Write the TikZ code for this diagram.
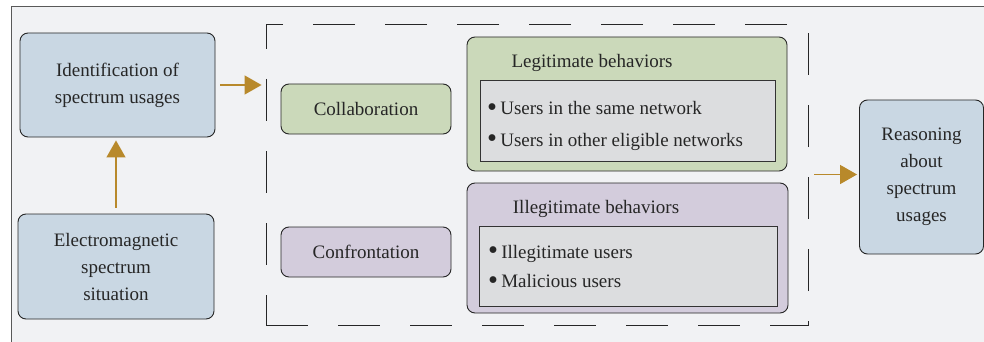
\documentclass[tikz,border=0pt]{standalone}
\usepackage{fontspec}
\setmainfont{Liberation Serif}
\usetikzlibrary{arrows.meta}

\definecolor{paper}{HTML}{F1F2F4}
\definecolor{bluefill}{HTML}{C9D7E3}
\definecolor{greenfill}{HTML}{CBD9BA}
\definecolor{purplefill}{HTML}{D3CCDC}
\definecolor{innerfill}{HTML}{DCDDDF}
\definecolor{gold}{HTML}{B8892B}
\definecolor{ink}{HTML}{262626}

\newcommand{\dotmark}{\raisebox{-1.2pt}{\scalebox{1.5}{\textbullet}}\,}

\tikzset{
  box/.style={draw=black!85, line width=0.9pt, rounded corners=8pt, align=center, inner sep=0pt},
  bluebox/.style={box, fill=bluefill},
  greenbox/.style={box, fill=greenfill},
  purplebox/.style={box, fill=purplefill},
  innerbox/.style={draw=black!80, line width=1pt, fill=innerfill, inner sep=0pt},
  item/.style={anchor=west, inner sep=0pt},
  flow/.style={draw=gold, line width=1.4pt, -{Triangle[length=17pt,width=19pt]}},
  dashbox/.style={draw=black!85, line width=0.9pt, dash pattern=on 42pt off 30pt, inner sep=0pt}
}

\begin{document}
\begin{tikzpicture}[x=1pt, y=-1pt, font=\rmfamily\fontsize{19}{27}\selectfont, text=ink]
  \useasboundingbox (0,0) rectangle (984,342);
  \draw[fill=paper, draw=black!65, line width=1pt] (11,7) rectangle (1000,360);

  % left column
  \node[bluebox, minimum width=195pt, minimum height=104pt] (ident) at (117.5,85) {Identification of\\spectrum usages};
  \node[bluebox, minimum width=196pt, minimum height=105pt] (emss) at (116,266.5) {Electromagnetic\\spectrum\\situation};

  % grouped behaviours
  \node[dashbox, minimum width=542pt, minimum height=301pt] (group) at (537,174.5) {};
  \node[greenbox, minimum width=170pt, minimum height=50pt] (collab) at (366,109) {Collaboration};
  \node[purplebox, minimum width=170pt, minimum height=50pt] (confr) at (366,252) {Confrontation};

  \node[greenbox, minimum width=320pt, minimum height=134pt] (legit) at (627,104) {};
  \node (legittitle) at (592,63) {Legitimate behaviors};
  \node[innerbox, minimum width=295pt, minimum height=80pt] (legitlist) at (627.5,121) {};
  \node[item] (l1) at (487,109) {\dotmark Users in the same network};
  \node[item] (l2) at (487,142) {\dotmark Users in other eligible networks};

  \node[purplebox, minimum width=321pt, minimum height=130pt] (illegit) at (627.5,248) {};
  \node (illegittitle) at (596,209) {Illegitimate behaviors};
  \node[innerbox, minimum width=298pt, minimum height=80pt] (illegitlist) at (628,266) {};
  \node[item] (i1) at (488,254) {\dotmark Illegitimate users};
  \node[item] (i2) at (488,282) {\dotmark Malicious users};

  % right column
  \node[bluebox, minimum width=124pt, minimum height=154pt] (reason) at (921.5,177) {Reasoning\\about\\spectrum\\usages};

  % arrows
  \draw[flow, shorten <=6pt, shorten >=3pt] (emss.north) -- (emss.north |- ident.south);
  \draw[flow, shorten <=5pt, shorten >=4pt] (ident.east) -- (group.west |- ident.east);
  \draw[flow, shorten <=6pt, shorten >=2pt] (group.east) -- (reason.west |- group.east);
\end{tikzpicture}
\end{document}
